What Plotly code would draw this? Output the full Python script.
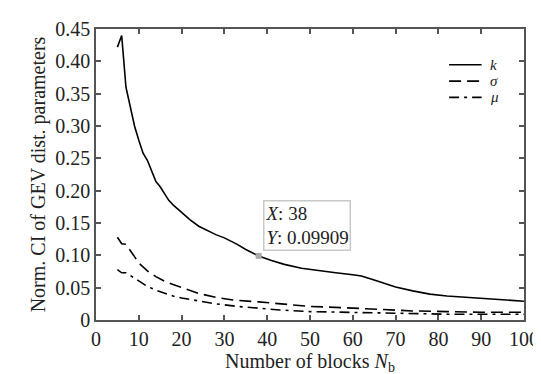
import plotly.graph_objects as go

# Number of blocks
k_x = [5, 6, 7, 8, 9, 10, 11, 12, 13, 14, 15, 16, 17, 18, 20, 22, 24, 26, 28, 30, 33, 35, 38,
       41, 44, 48, 52, 56, 60, 62, 65, 68, 70, 74, 78, 82, 86, 90, 95, 100]
k_y = [0.422, 0.440, 0.360, 0.330, 0.300, 0.278, 0.258, 0.247, 0.230, 0.214, 0.206, 0.195, 0.185,
       0.178, 0.166, 0.155, 0.145, 0.138, 0.132, 0.127, 0.117, 0.109, 0.09909,
       0.092, 0.086, 0.080, 0.076, 0.073, 0.070, 0.068, 0.062, 0.056, 0.051, 0.045, 0.040, 0.037,
       0.035, 0.033, 0.031, 0.029]

s_x = [5, 6, 7, 8, 9, 10, 12, 14, 16, 18, 20, 24, 28, 32, 38, 44, 50, 58, 66, 74, 82, 90, 100]
s_y = [0.128, 0.118, 0.117, 0.108, 0.098, 0.088, 0.076, 0.067, 0.060, 0.055, 0.050, 0.041, 0.035,
       0.031, 0.028, 0.025, 0.021, 0.019, 0.016, 0.014, 0.013, 0.012, 0.012]

m_x = [5, 6, 7, 8, 9, 10, 12, 14, 16, 18, 20, 24, 28, 33, 38, 43, 50, 58, 66, 74, 82, 90, 100]
m_y = [0.078, 0.073, 0.073, 0.069, 0.064, 0.060, 0.052, 0.046, 0.041, 0.037, 0.034, 0.029, 0.025,
       0.021, 0.018, 0.0155, 0.013, 0.012, 0.010, 0.0095, 0.009, 0.009, 0.009]

marker_x = [38]
marker_y = [0.09909]

series_names = ["<i>k</i>", "<i>σ</i>", "<i>μ</i>"]
series_dash = ["solid", "12px,6px", "10px,5px,3px,5px"]

x_ticks = list(range(0, 101, 10))
y_ticks = [0, 0.05, 0.10, 0.15, 0.20, 0.25, 0.30, 0.35, 0.40, 0.45]
y_tick_text = ["0", "0.05", "0.10", "0.15", "0.20", "0.25", "0.30", "0.35", "0.40", "0.45"]

FONT = "Liberation Serif"
TXT = "#222222"
AX = "#555555"

fig = go.Figure()
for xs, ys, nm, dsh in zip([k_x, s_x, m_x], [k_y, s_y, m_y], series_names, series_dash):
    fig.add_trace(go.Scatter(x=xs, y=ys, mode="lines", name=nm, showlegend=False,
                             line=dict(color="black", width=1.6, dash=dsh)))
fig.add_trace(go.Scatter(x=marker_x, y=marker_y, mode="markers", showlegend=False,
                         marker=dict(symbol="square", size=6, color="#aaaaaa")))

# data tip box
fig.add_annotation(x=marker_x[0], y=marker_y[0], xref="x", yref="y",
                   text="<i>X</i>: 38<br><i>Y</i>: 0.09909",
                   showarrow=False, xanchor="left", yanchor="bottom", xshift=4, yshift=5,
                   align="left", bgcolor="white", bordercolor="#c8c8c8", borderwidth=1.5,
                   borderpad=1, font=dict(family=FONT, size=19, color=TXT))

# legend (drawn as key lines + labels)
leg_y = [0.877, 0.821, 0.765]
for nm, dsh, yy in zip(series_names, series_dash, leg_y):
    fig.add_shape(type="line", xref="paper", yref="paper", x0=0.825, x1=0.901, y0=yy, y1=yy,
                  line=dict(color="black", width=1.6, dash=dsh))
    fig.add_annotation(xref="paper", yref="paper", x=0.918, y=yy, text=nm, showarrow=False,
                       xanchor="left", yanchor="middle", borderpad=0,
                       font=dict(family=FONT, size=15, color=TXT))

axis_common = dict(showline=True, linecolor=AX, linewidth=1.5, mirror="ticks",
                   ticks="inside", ticklen=5, tickcolor=AX, tickwidth=1.5,
                   showgrid=False, zeroline=False,
                   tickfont=dict(family=FONT, size=20, color=TXT))

fig.update_xaxes(range=[0, 100], tickvals=x_ticks,
                 title=dict(text="Number of blocks <i>N</i><sub>b</sub>",
                            font=dict(family=FONT, size=20, color=TXT), standoff=2),
                 **axis_common)
fig.update_yaxes(range=[0, 0.45], tickvals=y_ticks, ticktext=y_tick_text,
                 title=dict(text="Norm. CI of GEV dist. parameters",
                            font=dict(family=FONT, size=20, color=TXT), standoff=4),
                 **axis_common)

fig.update_layout(
    width=541, height=374,
    margin=dict(l=88, r=18, t=10, b=62),
    plot_bgcolor="white", paper_bgcolor="white",
    showlegend=False,
    font=dict(family=FONT),
)

fig.write_html("out.html")
